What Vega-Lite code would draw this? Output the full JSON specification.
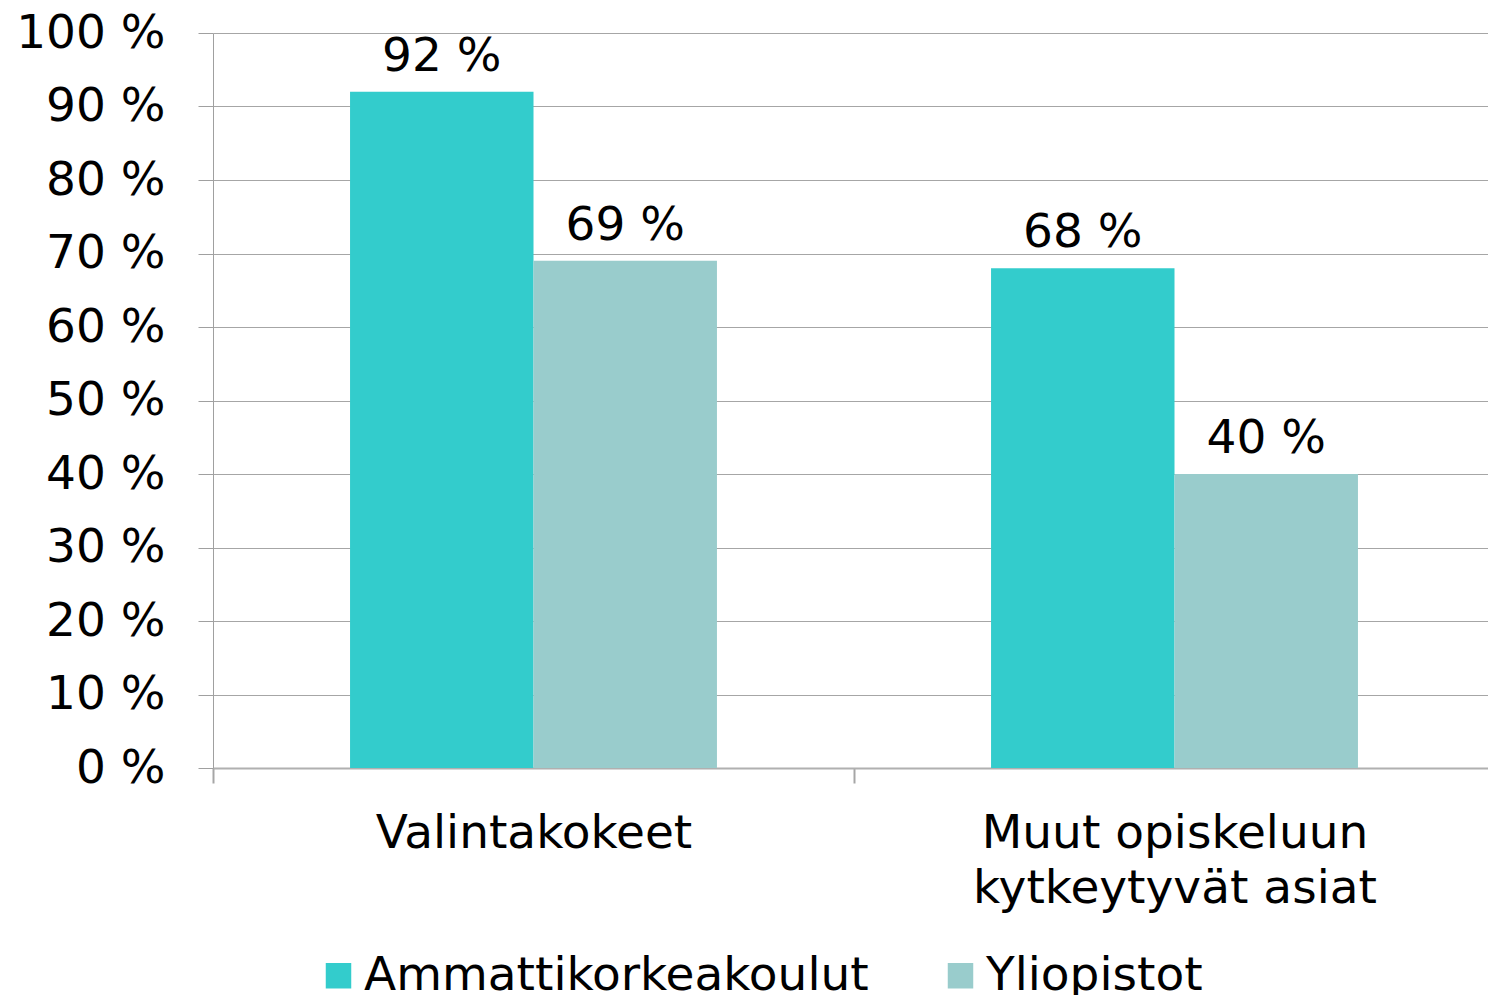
{
  "$schema": "https://vega.github.io/schema/vega-lite/v6.json",
  "autosize": "none",
  "padding": {"left": 213, "top": 33, "right": 0, "bottom": 227},
  "width": 1275,
  "height": 735,
  "background": "white",
  "config": {
    "font": "DejaVu Sans",
    "view": {"stroke": null}
  },
  "data": {
    "values": [
      {"category": "Valintakokeet", "group": "Ammattikorkeakoulut", "value": 92, "label": "92 %"},
      {"category": "Valintakokeet", "group": "Yliopistot", "value": 69, "label": "69 %"},
      {"category": "Muut opiskeluun kytkeytyvät asiat", "group": "Ammattikorkeakoulut", "value": 68, "label": "68 %"},
      {"category": "Muut opiskeluun kytkeytyvät asiat", "group": "Yliopistot", "value": 40, "label": "40 %"}
    ]
  },
  "encoding": {
    "x": {
      "field": "category",
      "type": "nominal",
      "sort": ["Valintakokeet", "Muut opiskeluun kytkeytyvät asiat"],
      "scale": {"paddingInner": 0, "paddingOuter": 0, "range": [0, 1282]},
      "axis": {
        "title": null,
        "labelAngle": 0,
        "labelFont": "DejaVu Sans",
        "labelFontSize": 47,
        "labelColor": "black",
        "labelPadding": 27,
        "labelLineHeight": 55,
        "labelLimit": 2000,
        "labelExpr": "datum.value == 'Muut opiskeluun kytkeytyvät asiat' ? ['Muut opiskeluun', 'kytkeytyvät asiat'] : datum.value",
        "tickBand": "extent",
        "ticks": true,
        "tickSize": 15,
        "tickColor": "#A6A6A6",
        "tickWidth": 2,
        "domainColor": "#B0B0B0",
        "domainWidth": 2,
        "grid": false
      }
    },
    "xOffset": {
      "field": "group",
      "type": "nominal",
      "scale": {"paddingInner": 0, "paddingOuter": 0.747}
    }
  },
  "layer": [
    {
      "mark": {"type": "bar"},
      "encoding": {
        "y": {
          "field": "value",
          "type": "quantitative",
          "scale": {"domain": [0, 100], "nice": false},
          "axis": {
            "title": null,
            "values": [0, 10, 20, 30, 40, 50, 60, 70, 80, 90, 100],
            "labelExpr": "datum.value + ' %'",
            "labelFont": "DejaVu Sans",
            "labelFontSize": 47,
            "labelColor": "black",
            "labelPadding": 33,
            "tickSize": 15,
            "tickColor": "#A0A0A0",
            "domainColor": "#A0A0A0",
            "gridColor": "#A6A6A6",
            "grid": true
          }
        },
        "color": {
          "field": "group",
          "type": "nominal",
          "scale": {"domain": ["Ammattikorkeakoulut", "Yliopistot"], "range": ["#33CCCC", "#99CCCC"]},
          "legend": {
            "title": null,
            "orient": "none",
            "direction": "horizontal",
            "legendX": 102,
            "legendY": 919,
            "symbolType": "square",
            "symbolSize": 650,
            "symbolStrokeWidth": 0,
            "symbolOpacity": 1,
            "labelFont": "DejaVu Sans",
            "labelFontSize": 47,
            "labelColor": "black",
            "labelOffset": 2,
            "columnPadding": 68,
            "labelLimit": 1000
          }
        }
      }
    },
    {
      "mark": {"type": "text", "baseline": "alphabetic", "dy": -21, "fontSize": 47, "font": "DejaVu Sans", "color": "black"},
      "encoding": {
        "y": {"field": "value", "type": "quantitative"},
        "text": {"field": "label"}
      }
    }
  ]
}
